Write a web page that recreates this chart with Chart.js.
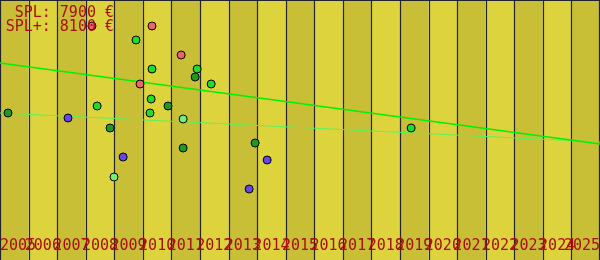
<!DOCTYPE html>
<html>
<head>
<meta charset="utf-8">
<script src="https://cdn.jsdelivr.net/npm/chart.js@4/dist/chart.umd.min.js"></script>
<style>
html,body{margin:0;padding:0;background:#fff;}
canvas{display:block;}
</style>
</head>
<body>
<canvas id="c" width="600" height="260"></canvas>
<script>
// ---- data ----
const years = [2005,2006,2007,2008,2009,2010,2011,2012,2013,2014,2015,2016,2017,2018,2019,2020,2021,2022,2023,2024,2025];
const yearLabels = years.map(String);
const splText = ["SPL: 7900 €", "SPL+: 8100 €"];

const salmonX = [2009.90, 2010.32, 2011.34, 2008.22];
const salmonY = [8320, 9480, 8900, 9480];
const brightX = [2008.40, 2009.76, 2010.32, 2011.90, 2012.39, 2010.29, 2010.25, 2019.39];
const brightY = [7880, 9200, 8620, 8620, 8320, 8020, 7740, 7440];
const darkX = [2005.28, 2008.85, 2011.83, 2010.88, 2011.41, 2013.93];
const darkY = [7740, 7440, 8460, 7880, 7040, 7140];
const paleX = [2008.99, 2011.41];
const paleY = [6460, 7620];
const blueX = [2007.38, 2009.31, 2014.35, 2013.72];
const blueY = [7640, 6860, 6800, 6220];

const trendX = [2005, 2026];
const trendSPL = [8740, 7120];
const trendSPLplus = [7740, 7160];

const pts = (xs, ys) => xs.map((x, i) => ({x: x, y: ys[i]}));

const bgPlugin = {
  id: 'bands',
  beforeDatasetsDraw(chart) {
    const {ctx, chartArea: a, scales: {x}} = chart;
    ctx.save();
    years.forEach((yr, i) => {
      const x0 = x.getPixelForValue(yr), x1 = x.getPixelForValue(yr + 1);
      ctx.fillStyle = (i % 2 === 0) ? '#c9bf37' : '#ddd33d';
      ctx.fillRect(x0, a.top, x1 - x0, a.bottom - a.top);
    });
    ctx.strokeStyle = '#23232e';
    ctx.lineWidth = 1.2;
    ctx.beginPath();
    years.forEach((yr) => {
      const px = Math.round(x.getPixelForValue(yr)) + 0.5;
      ctx.moveTo(px, a.top); ctx.lineTo(px, a.bottom);
    });
    ctx.moveTo(a.right - 0.5, a.top); ctx.lineTo(a.right - 0.5, a.bottom);
    ctx.moveTo(a.left, a.top + 0.5); ctx.lineTo(a.right, a.top + 0.5);
    ctx.stroke();
    ctx.restore();
  },
  afterDraw(chart) {
    const {ctx, chartArea: a, scales: {x}} = chart;
    ctx.save();
    ctx.font = '15px "DejaVu Sans Mono"';
    ctx.fillStyle = '#a81010';
    ctx.textBaseline = 'alphabetic';
    ctx.textAlign = 'right';
    ctx.fillText(splText[0], 114, 17);
    ctx.fillText(splText[1], 114, 31);
    ctx.textAlign = 'left';
    years.forEach((yr, i) => {
      const c = (x.getPixelForValue(yr) + x.getPixelForValue(yr + 1)) / 2;
      const w = ctx.measureText(yearLabels[i]).width;
      let l = c - w / 2;
      if (l < a.left) l = a.left;
      if (l + w > a.right) l = a.right - w;
      ctx.fillText(yearLabels[i], l, 250);
    });
    ctx.restore();
  }
};

const pointStyle = (color) => ({
  type: 'scatter', backgroundColor: color, borderColor: '#000', borderWidth: 1,
  pointRadius: 4, pointHoverRadius: 4, order: 1, clip: false
});

new Chart(document.getElementById('c'), {
  data: {
    datasets: [
      Object.assign({data: pts(salmonX, salmonY)}, pointStyle('#ee6464')),
      Object.assign({data: pts(brightX, brightY)}, pointStyle('#22dd22')),
      Object.assign({data: pts(darkX, darkY)}, pointStyle('#1f9a1f')),
      Object.assign({data: pts(paleX, paleY)}, pointStyle('#77ee77')),
      Object.assign({data: pts(blueX, blueY)}, pointStyle('#6644ee')),
      {type: 'line', data: pts(trendX, trendSPL), borderColor: '#00f000', borderWidth: 1.3, pointRadius: 0, fill: false, order: 5},
      {type: 'line', data: pts(trendX, trendSPLplus), borderColor: '#5cf05c', borderWidth: 1.2, pointRadius: 0, fill: false, order: 5}
    ]
  },
  options: {
    responsive: false,
    animation: false,
    layout: {padding: 0, autoPadding: false},
    plugins: {legend: {display: false}, tooltip: {enabled: false}},
    scales: {
      x: {type: 'linear', min: 2005, max: 2026, display: false},
      y: {type: 'linear', min: 4800, max: 10000, display: false}
    }
  },
  plugins: [bgPlugin]
});
</script>
</body>
</html>
